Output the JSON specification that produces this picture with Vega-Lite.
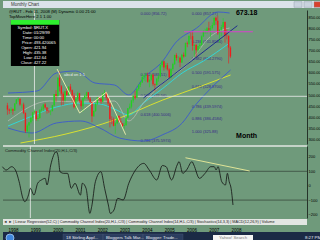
{
"$schema":"https://vega.github.io/schema/vega-lite/v6.json",
"background":"#6f9a7b",
"padding":0,
"spacing":0,
"config":{"view":{"stroke":null},"font":"Liberation Sans","concat":{"spacing":0},
"axis":{"labelFontSize":4,"labelOverlap":false,"labelColor":"#000000","ticks":false,"grid":false,"title":null,"labelPadding":1,"domainColor":"#26332a","domainWidth":1,"labelFont":"Liberation Sans"}},
"datasets":{
"tb":[{"k":"s0","t":"Monthly Chart","kind":"title"},{"k":"s29","kind":"btn"},{"k":"s30","kind":"btn"},{"k":"s31","kind":"close"}],
"task":[{"k":"t0","t":"","kind":"orb"},{"k":"t3","t":"18 Stirling Appl...","kind":"btn"},{"k":"t5","t":"Bloggers Talk Mar...","kind":"btn"},{"k":"t7","t":"Blogger: Trade...","kind":"btn"},{"k":"t11","t":"Yahoo! Search","kind":"search"},{"k":"t15","t":"8:27 PM","kind":"time"}],
"hl":[{"p":494.6}],
"vl":[{"d":"1999-01-01"}],
"cciL":[{"v":100},{"v":-100},{"v":275.7}],
"k":[
{"d":"1997-10-01","o":453.8,"h":465.2,"l":411.6,"c":434.9},
{"d":"1997-11-01","o":434.9,"h":440,"l":415,"c":429.9},
{"d":"1997-12-01","o":429.9,"h":445,"l":420,"c":437.0},
{"d":"1998-01-01","o":437.0,"h":440,"l":412,"c":430.1},
{"d":"1998-02-01","o":430.1,"h":463,"l":429,"c":461.8},
{"d":"1998-03-01","o":461.8,"h":482,"l":459,"c":480.7},
{"d":"1998-04-01","o":480.7,"h":491.4,"l":470,"c":483.1},
{"d":"1998-05-01","o":483.1,"h":485,"l":452,"c":457.4},
{"d":"1998-06-01","o":457.4,"h":462,"l":440,"c":457.6},
{"d":"1998-07-01","o":457.6,"h":466,"l":415,"c":419.8},
{"d":"1998-08-01","o":419.8,"h":423,"l":330,"c":337.9},
{"d":"1998-09-01","o":337.9,"h":372,"l":330,"c":363.6},
{"d":"1998-10-01","o":363.6,"h":380,"l":310.3,"c":378.2},
{"d":"1998-11-01","o":378.2,"h":405,"l":372,"c":397.8},
{"d":"1998-12-01","o":397.8,"h":425,"l":385,"c":422.0},
{"d":"1999-01-01","o":421.9,"h":435.4,"l":412.6,"c":427.2},
{"d":"1999-02-01","o":427.2,"h":428,"l":385,"c":392.3},
{"d":"1999-03-01","o":392.3,"h":405,"l":383,"c":397.6},
{"d":"1999-04-01","o":397.6,"h":437,"l":393,"c":432.8},
{"d":"1999-05-01","o":432.8,"h":449,"l":426,"c":438.7},
{"d":"1999-06-01","o":438.7,"h":459,"l":428,"c":457.7},
{"d":"1999-07-01","o":457.7,"h":465,"l":440,"c":444.8},
{"d":"1999-08-01","o":444.8,"h":446,"l":417,"c":428.8},
{"d":"1999-09-01","o":428.8,"h":440,"l":420,"c":427.3},
{"d":"1999-10-01","o":427.3,"h":432,"l":410,"c":428.6},
{"d":"1999-11-01","o":428.6,"h":456,"l":426,"c":454.1},
{"d":"1999-12-01","o":454.1,"h":505,"l":450,"c":504.8},
{"d":"2000-01-01","o":504.8,"h":522,"l":470,"c":496.2},
{"d":"2000-02-01","o":496.2,"h":580,"l":490,"c":577.7},
{"d":"2000-03-01","o":577.7,"h":606.4,"l":516,"c":539.1},
{"d":"2000-04-01","o":539.1,"h":545,"l":453,"c":506.3},
{"d":"2000-05-01","o":506.3,"h":515,"l":455,"c":476.2},
{"d":"2000-06-01","o":476.2,"h":520,"l":470,"c":517.2},
{"d":"2000-07-01","o":517.2,"h":535,"l":495,"c":500.6},
{"d":"2000-08-01","o":500.6,"h":540,"l":497,"c":538.2},
{"d":"2000-09-01","o":538.2,"h":550,"l":515,"c":521.4},
{"d":"2000-10-01","o":521.4,"h":525,"l":470,"c":497.7},
{"d":"2000-11-01","o":497.7,"h":510,"l":440,"c":445.9},
{"d":"2000-12-01","o":445.9,"h":490,"l":438,"c":483.5},
{"d":"2001-01-01","o":483.5,"h":515,"l":470,"c":508.3},
{"d":"2001-02-01","o":508.3,"h":510,"l":465,"c":474.4},
{"d":"2001-03-01","o":474.4,"h":480,"l":436,"c":450.5},
{"d":"2001-04-01","o":450.5,"h":490,"l":425,"c":485.3},
{"d":"2001-05-01","o":485.3,"h":502,"l":480,"c":497.3},
{"d":"2001-06-01","o":497.3,"h":515,"l":484,"c":512.6},
{"d":"2001-07-01","o":512.6,"h":514,"l":478,"c":484.8},
{"d":"2001-08-01","o":484.8,"h":492,"l":464,"c":468.6},
{"d":"2001-09-01","o":468.6,"h":470,"l":378.9,"c":404.9},
{"d":"2001-10-01","o":404.9,"h":432,"l":402,"c":428.2},
{"d":"2001-11-01","o":428.2,"h":463,"l":425,"c":461.6},
{"d":"2001-12-01","o":461.6,"h":492,"l":455,"c":488.5},
{"d":"2002-01-01","o":488.5,"h":491,"l":470,"c":483.1},
{"d":"2002-02-01","o":483.1,"h":487,"l":460,"c":470.1},
{"d":"2002-03-01","o":470.1,"h":510,"l":468,"c":506.5},
{"d":"2002-04-01","o":506.5,"h":522.9,"l":500,"c":511.6},
{"d":"2002-05-01","o":511.6,"h":513,"l":476,"c":488.5},
{"d":"2002-06-01","o":488.5,"h":490,"l":450,"c":462.6},
{"d":"2002-07-01","o":462.6,"h":465,"l":355,"c":392.4},
{"d":"2002-08-01","o":392.4,"h":405,"l":370,"c":391.4},
{"d":"2002-09-01","o":391.4,"h":400,"l":360,"c":362.3},
{"d":"2002-10-01","o":362.3,"h":380,"l":327.0,"c":373.9},
{"d":"2002-11-01","o":373.9,"h":412,"l":370,"c":406.3},
{"d":"2002-12-01","o":406.3,"h":410,"l":380,"c":383.1},
{"d":"2003-01-01","o":383.1,"h":400,"l":368,"c":372.2},
{"d":"2003-02-01","o":372.2,"h":375,"l":355,"c":361.0},
{"d":"2003-03-01","o":361.0,"h":376,"l":345,"c":364.5},
{"d":"2003-04-01","o":364.5,"h":400,"l":362,"c":398.7},
{"d":"2003-05-01","o":398.7,"h":442,"l":396,"c":441.0},
{"d":"2003-06-01","o":441.0,"h":462,"l":436,"c":448.4},
{"d":"2003-07-01","o":448.4,"h":479,"l":440,"c":476.0},
{"d":"2003-08-01","o":476.0,"h":498,"l":466,"c":497.4},
{"d":"2003-09-01","o":497.4,"h":520,"l":480,"c":487.7},
{"d":"2003-10-01","o":487.7,"h":530,"l":487,"c":528.2},
{"d":"2003-11-01","o":528.2,"h":548,"l":520,"c":546.5},
{"d":"2003-12-01","o":546.5,"h":560,"l":536,"c":556.9},
{"d":"2004-01-01","o":556.9,"h":595,"l":555,"c":580.8},
{"d":"2004-02-01","o":580.8,"h":590,"l":565,"c":585.6},
{"d":"2004-03-01","o":585.6,"h":600,"l":560,"c":590.3},
{"d":"2004-04-01","o":590.3,"h":601,"l":555,"c":559.8},
{"d":"2004-05-01","o":559.8,"h":570,"l":535,"c":568.3},
{"d":"2004-06-01","o":568.3,"h":592,"l":565,"c":591.5},
{"d":"2004-07-01","o":591.5,"h":595,"l":540,"c":549.0},
{"d":"2004-08-01","o":549.0,"h":552,"l":517,"c":545.7},
{"d":"2004-09-01","o":545.7,"h":578,"l":543,"c":572.9},
{"d":"2004-10-01","o":572.9,"h":590,"l":560,"c":583.8},
{"d":"2004-11-01","o":583.8,"h":637,"l":580,"c":633.8},
{"d":"2004-12-01","o":633.8,"h":655,"l":625,"c":651.6},
{"d":"2005-01-01","o":651.6,"h":654,"l":610,"c":624.0},
{"d":"2005-02-01","o":624.0,"h":645,"l":615,"c":634.1},
{"d":"2005-03-01","o":634.1,"h":644,"l":610,"c":615.1},
{"d":"2005-04-01","o":615.1,"h":620,"l":575,"c":579.4},
{"d":"2005-05-01","o":579.4,"h":620,"l":575,"c":616.7},
{"d":"2005-06-01","o":616.7,"h":645,"l":610,"c":639.7},
{"d":"2005-07-01","o":639.7,"h":682,"l":635,"c":679.8},
{"d":"2005-08-01","o":679.8,"h":688,"l":655,"c":666.5},
{"d":"2005-09-01","o":666.5,"h":675,"l":645,"c":667.8},
{"d":"2005-10-01","o":667.8,"h":672,"l":625,"c":646.6},
{"d":"2005-11-01","o":646.6,"h":685,"l":644,"c":680.6},
{"d":"2005-12-01","o":680.6,"h":691,"l":668,"c":673.2},
{"d":"2006-01-01","o":673.2,"h":736,"l":672,"c":733.2},
{"d":"2006-02-01","o":733.2,"h":740,"l":715,"c":730.6},
{"d":"2006-03-01","o":730.6,"h":768,"l":725,"c":765.1},
{"d":"2006-04-01","o":765.1,"h":781.8,"l":750,"c":764.5},
{"d":"2006-05-01","o":764.5,"h":785,"l":700,"c":721.0},
{"d":"2006-06-01","o":721.0,"h":728,"l":671,"c":724.7},
{"d":"2006-07-01","o":724.7,"h":730,"l":670,"c":700.6},
{"d":"2006-08-01","o":700.6,"h":722,"l":690,"c":720.5},
{"d":"2006-09-01","o":720.5,"h":735,"l":705,"c":725.6},
{"d":"2006-10-01","o":725.6,"h":768,"l":722,"c":763.7},
{"d":"2006-11-01","o":763.7,"h":790,"l":760,"c":786.1},
{"d":"2006-12-01","o":786.1,"h":797,"l":775,"c":787.7},
{"d":"2007-01-01","o":787.7,"h":805,"l":775,"c":800.3},
{"d":"2007-02-01","o":800.3,"h":829,"l":785,"c":793.3},
{"d":"2007-03-01","o":793.3,"h":810,"l":760,"c":800.7},
{"d":"2007-04-01","o":800.7,"h":825,"l":795,"c":814.6},
{"d":"2007-05-01","o":814.6,"h":848,"l":810,"c":847.2},
{"d":"2007-06-01","o":847.2,"h":852,"l":815,"c":833.7},
{"d":"2007-07-01","o":833.7,"h":856.5,"l":770,"c":777.0},
{"d":"2007-08-01","o":777.0,"h":795,"l":735,"c":792.9},
{"d":"2007-09-01","o":792.9,"h":815,"l":765,"c":805.5},
{"d":"2007-10-01","o":805.5,"h":845,"l":800,"c":828.0},
{"d":"2007-11-01","o":828.0,"h":830,"l":735,"c":767.8},
{"d":"2007-12-01","o":767.8,"h":795,"l":750,"c":766.0},
{"d":"2008-01-01","o":766.0,"h":767,"l":641.9,"c":713.3},
{"d":"2008-02-01","o":713.3,"h":720,"l":666,"c":673.18}
],
"ln":[
{"s":"yel","d":"1998-05-10","p":285.2},{"s":"yel","d":"2000-06-19","p":325.6},{"s":"yel","d":"2002-09-16","p":388.3},{"s":"yel","d":"2004-12-13","p":478},{"s":"yel","d":"2006-10-01","p":540.8},{"s":"yel","d":"2008-02-03","p":590.1},
{"s":"cya","d":"1997-10-10","p":361.4},{"s":"cya","d":"1998-09-03","p":397.3},{"s":"cya","d":"2000-01-07","p":446.6},{"s":"cya","d":"2001-02-21","p":464.6},{"s":"cya","d":"2002-01-13","p":460.1},{"s":"cya","d":"2002-09-16","p":437.7},{"s":"cya","d":"2003-05-19","p":410.8},{"s":"cya","d":"2004-01-21","p":464.6},{"s":"cya","d":"2004-12-13","p":530},{"s":"cya","d":"2005-11-07","p":599.1},{"s":"cya","d":"2006-11-01","p":652.9},{"s":"cya","d":"2008-01-18","p":733.6},
{"s":"gry","d":"1997-10-10","p":383.9},{"s":"gry","d":"1999-09-14","p":473.5},{"s":"gry","d":"2001-02-21","p":469},{"s":"gry","d":"2002-09-16","p":473.5},{"s":"gry","d":"2003-05-19","p":383.9},{"s":"gry","d":"2004-01-21","p":464.6},{"s":"gry","d":"2004-12-13","p":554.2},{"s":"gry","d":"2006-03-01","p":643.9},{"s":"gry","d":"2007-03-10","p":765},{"s":"gry","d":"2008-01-18","p":800.9},
{"s":"bup","d":"1997-10-10","p":509.4},{"s":"bup","d":"1999-02-15","p":518.4},{"s":"bup","d":"2000-01-07","p":599},{"s":"bup","d":"2000-12-01","p":608},{"s":"bup","d":"2001-10-22","p":554.2},{"s":"bup","d":"2002-09-16","p":545.3},{"s":"bup","d":"2003-05-19","p":500.4},{"s":"bup","d":"2004-01-21","p":576.7},{"s":"bup","d":"2004-12-13","p":652.9},{"s":"bup","d":"2005-07-13","p":733.6},{"s":"bup","d":"2006-07-10","p":800.9},{"s":"bup","d":"2007-07-04","p":872.6},{"s":"bup","d":"2008-01-18","p":868.1},
{"s":"blo","d":"1997-10-10","p":352.4},{"s":"blo","d":"1998-11-24","p":330},{"s":"blo","d":"2000-01-07","p":374.9},{"s":"blo","d":"2001-02-21","p":383.9},{"s":"blo","d":"2002-01-13","p":352.4},{"s":"blo","d":"2002-12-07","p":307.6},{"s":"blo","d":"2004-01-21","p":294.2},{"s":"blo","d":"2004-12-13","p":322.4},{"s":"blo","d":"2005-11-07","p":374.9},{"s":"blo","d":"2006-06-06","p":451.1},{"s":"blo","d":"2007-01-22","p":518.4},{"s":"blo","d":"2008-02-03","p":612.5}
],
"ov":[
{"s":"nav","d":"2004-01-21","p":487},{"s":"nav","d":"2008-05-28","p":811.2},
{"s":"mag","d":"2005-12-10","p":784},{"s":"mag","d":"2009-02-15","p":784},
{"s":"zz","d":"2000-01-19","p":617},{"s":"zz","d":"2001-02-04","p":419.7},{"s":"zz","d":"2002-05-01","p":512.5},{"s":"zz","d":"2003-03-25","p":322.4}
],
"fib":[
{"d":"2006-04-18","p":857.27,"t":"0.000 (857.27)"},
{"d":"2006-04-18","p":731.86,"t":"0.236 (731.8580)"},
{"d":"2006-04-18","p":654.28,"t":"0.382 (654.2790)"},
{"d":"2006-04-18","p":591.575,"t":"0.500 (591.575)"},
{"d":"2006-04-18","p":528.87,"t":"0.618 (528.8700)"},
{"d":"2006-04-18","p":439.6,"t":"0.786 (439.5974)"},
{"d":"2006-04-18","p":386.46,"t":"0.886 (386.4584)"},
{"d":"2006-04-18","p":325.88,"t":"1.000 (325.88)"},
{"d":"2003-12-01","p":856.72,"t":"0.000 (856.72)"},
{"d":"2003-12-01","p":583.51,"t":"0.382 (583.51)"},
{"d":"2003-12-01","p":488,"t":"0.500 (422.56)"},
{"d":"2003-12-01","p":405,"t":"0.618 (400.5006)"},
{"d":"2003-12-01","p":287,"t":"0.786 (375.5974)"}
],
"big":[{"d":"2008-11-01","p":868,"t":"673.18"},{"d":"2008-11-01","p":316.6,"t":"Month"}],
"hdr":[{"d":"1997-10-26","p":870.4,"t":"@RUT - Feb 11, 2008 (M)  Dynamic 0.00  21:00"},{"d":"1997-10-26","p":850.2,"t":"TopMoveHere 2.1 1.00"}],
"note":[{"d":"2000-05-15","p":591,"t":"abcd on 1:1"}],
"box":[{"d1":"1997-11-28","d2":"2000-02-25","p1":630.5,"p2":836.8,"kind":"black"},{"d1":"1997-11-28","d2":"2000-02-25","p1":815,"p2":836.8,"kind":"green"}],
"info":[
{"p":800.9,"a":"Symbol:","b":"$RUT.X"},{"p":778.5,"a":"Date:","b":"01/29/99"},{"p":756,"a":"Time:","b":"00:00"},{"p":733.6,"a":"Price:","b":"493.420065"},{"p":711.2,"a":"Open:","b":"421.94"},{"p":688.8,"a":"High:","b":"435.38"},{"p":666.3,"a":"Low:","b":"412.64"},{"p":643.9,"a":"Close:","b":"427.22"}
],
"cci":[
{"d":"1997-10-01","v":132},{"d":"1997-12-01","v":109},{"d":"1998-03-01","v":132},{"d":"1998-05-01","v":109},{"d":"1998-07-01","v":28},{"d":"1998-09-01","v":-88},{"d":"1998-10-01","v":-111},{"d":"1998-12-01","v":-65},{"d":"1999-01-01","v":-18},{"d":"1999-03-01","v":-65},{"d":"1999-05-01","v":17},{"d":"1999-07-01","v":40},{"d":"1999-09-01","v":51},{"d":"1999-10-01","v":5},{"d":"1999-12-01","v":144},{"d":"2000-03-01","v":236},{"d":"2000-04-01","v":201},{"d":"2000-05-01","v":97},{"d":"2000-07-01","v":86},{"d":"2000-09-01","v":86},{"d":"2000-11-01","v":-18},{"d":"2001-01-01","v":17},{"d":"2001-04-01","v":-65},{"d":"2001-05-01","v":17},{"d":"2001-07-01","v":-18},{"d":"2001-09-01","v":-192},{"d":"2001-10-01","v":-146},{"d":"2001-12-01","v":28},{"d":"2002-03-01","v":97},{"d":"2002-05-01","v":-18},{"d":"2002-07-01","v":-134},{"d":"2002-08-01","v":-192},{"d":"2002-10-01","v":-169},{"d":"2002-12-01","v":-88},{"d":"2003-03-01","v":-99},{"d":"2003-06-01","v":17},{"d":"2003-09-01","v":97},{"d":"2004-02-01","v":155},{"d":"2004-05-01","v":109},{"d":"2004-09-01","v":40},{"d":"2004-12-01","v":140},{"d":"2005-02-01","v":132},{"d":"2005-05-01","v":40},{"d":"2005-08-01","v":144},{"d":"2005-09-01","v":167},{"d":"2005-11-01","v":86},{"d":"2006-01-01","v":109},{"d":"2006-04-01","v":167},{"d":"2006-05-01","v":144},{"d":"2006-08-01","v":51},{"d":"2006-11-01","v":86},{"d":"2007-02-01","v":132},{"d":"2007-04-01","v":132},{"d":"2007-05-01","v":109},{"d":"2007-06-01","v":132},{"d":"2007-08-01","v":28},{"d":"2007-10-01","v":5},{"d":"2007-11-01","v":86},{"d":"2007-12-01","v":28},{"d":"2008-01-01","v":-18},{"d":"2008-02-01","v":-134}
],
"ccit":[{"d":"2005-12-15","v":194},{"d":"2008-11-01","v":102}],
"cciH":[{"d":"1997-11-12","v":241,"t":"Commodity Channel Index(20,H,L,C/3)"}],
"tabs":[{"d":"1997-10-20","t":"◄ ► | Linear Regression(52,C) | Commodity Channel Index(20,H,L,C/3) | Commodity Channel Index(14,H,L,C/3) | Stochastics(14,3,3) | MACD(12,26,9) | Volume"}]
},
"vconcat":[
{
"width":320,"height":7,
"view":{"fill":"#dbe3ea","stroke":null},
"data":{"name":"tb"},
"layer":[
{"transform":[{"filter":"datum.kind=='title'"}],
"mark":{"type":"text","align":"left","baseline":"middle","fontSize":4.5,"color":"#333333"},
"encoding":{"x":{"field":"k","type":"nominal","bandPosition":0.8,"scale":{"type":"band","paddingInner":0,"paddingOuter":0,"domain":["s0","s1","s2","s3","s4","s5","s6","s7","s8","s9","s10","s11","s12","s13","s14","s15","s16","s17","s18","s19","s20","s21","s22","s23","s24","s25","s26","s27","s28","s29","s30","s31"]},"axis":null},"text":{"field":"t"}}},
{"transform":[{"filter":"datum.kind!='title'"}],
"mark":{"type":"point","shape":"M -1 -0.7 L 1 -0.7 L 1 0.7 L -1 0.7 Z","filled":true,"size":64,"stroke":"#8a96a4","strokeWidth":0.4},
"encoding":{"x":{"field":"k","type":"nominal","scale":{"type":"band","paddingInner":0,"paddingOuter":0,"domain":["s0","s1","s2","s3","s4","s5","s6","s7","s8","s9","s10","s11","s12","s13","s14","s15","s16","s17","s18","s19","s20","s21","s22","s23","s24","s25","s26","s27","s28","s29","s30","s31"]},"axis":null},
"color":{"condition":{"test":"datum.kind=='close'","value":"#d8402c"},"value":"#c9d3de"},"opacity":{"value":1}}}
]
},
{
"width":304,"height":134,
"view":{"fill":"#6f9a7b","stroke":null},
"layer":[
{"data":{"name":"fib"},"mark":{"type":"text","align":"left","baseline":"alphabetic","fontSize":4,"color":"#3a2a8a","dy":-0.5},
"encoding":{"x":{"field":"d","type":"temporal","scale":{"type":"utc","domain":[{"year":1997,"month":10,"date":10,"utc":true},{"year":2011,"month":5,"date":28,"utc":true}]},"axis":null},
"y":{"field":"p","type":"quantitative","scale":{"domain":[280.7,881.6],"nice":false,"zero":false},"axis":{"orient":"right","values":[300,350,400,450,500,550,600,650,700,750,800,850],"format":".2f","labelFontSize":4,"labelOverlap":false,"labelPadding":1,"ticks":false,"grid":false,"title":null}},
"text":{"field":"t"}}},
{"data":{"name":"ln"},"mark":{"type":"line","strokeWidth":0.8,"interpolate":"monotone","clip":true},
"encoding":{"x":{"field":"d","type":"temporal"},
"y":{"field":"p","type":"quantitative","axis":{"orient":"right","values":[300,350,400,450,500,550,600,650,700,750,800,850],"format":".2f","labelFontSize":4,"labelOverlap":false,"labelPadding":1,"ticks":false,"grid":false,"title":null}},
"color":{"field":"s","type":"nominal","legend":null,"scale":{"domain":["yel","cya","gry","bup","blo","nav","mag","zz"],"range":["#f2f21e","#22e6ee","#b4bcb4","#3552d8","#3552d8","#14208e","#e436d6","#f2f0b0"]}}}},
{"data":{"name":"hl"},"mark":{"type":"rule","color":"#eeeeee","strokeWidth":0.8},
"encoding":{"y":{"field":"p","type":"quantitative","axis":{"orient":"right","values":[300,350,400,450,500,550,600,650,700,750,800,850],"format":".2f","labelFontSize":4,"labelOverlap":false,"labelPadding":1,"ticks":false,"grid":false,"title":null}}}},
{"data":{"name":"vl"},"mark":{"type":"rule","color":"#eeeeee","strokeWidth":0.8},
"encoding":{"x":{"field":"d","type":"temporal"}}},
{"data":{"name":"k"},"mark":{"type":"rule","strokeWidth":0.6},
"encoding":{"x":{"field":"d","type":"temporal"},
"y":{"field":"l","type":"quantitative","axis":{"orient":"right","values":[300,350,400,450,500,550,600,650,700,750,800,850],"format":".2f","labelFontSize":4,"labelOverlap":false,"labelPadding":1,"ticks":false,"grid":false,"title":null}},"y2":{"field":"h"},
"color":{"condition":{"test":"datum.c >= datum.o","value":"#22d022"},"value":"#f01c1c"}}},
{"data":{"name":"k"},"mark":{"type":"bar","size":1.4},
"encoding":{"x":{"field":"d","type":"temporal"},
"y":{"field":"o","type":"quantitative","axis":{"orient":"right","values":[300,350,400,450,500,550,600,650,700,750,800,850],"format":".2f","labelFontSize":4,"labelOverlap":false,"labelPadding":1,"ticks":false,"grid":false,"title":null}},"y2":{"field":"c"},
"color":{"condition":{"test":"datum.c >= datum.o","value":"#22d022"},"value":"#f01c1c"}}},
{"data":{"name":"ov"},"mark":{"type":"line","strokeWidth":0.9,"clip":true},
"encoding":{"x":{"field":"d","type":"temporal"},
"y":{"field":"p","type":"quantitative","axis":{"orient":"right","values":[300,350,400,450,500,550,600,650,700,750,800,850],"format":".2f","labelFontSize":4,"labelOverlap":false,"labelPadding":1,"ticks":false,"grid":false,"title":null}},"detail":{"field":"s"},
"color":{"field":"s","type":"nominal","legend":null,"scale":{"domain":["yel","cya","gry","bup","blo","nav","mag","zz"],"range":["#f2f21e","#22e6ee","#b4bcb4","#3552d8","#3552d8","#14208e","#e436d6","#f2f0b0"]}}}},
{"data":{"name":"note"},"mark":{"type":"text","align":"left","baseline":"middle","fontSize":4,"color":"#e6eef0"},
"encoding":{"x":{"field":"d","type":"temporal"},
"y":{"field":"p","type":"quantitative","axis":{"orient":"right","values":[300,350,400,450,500,550,600,650,700,750,800,850],"format":".2f","labelFontSize":4,"labelOverlap":false,"labelPadding":1,"ticks":false,"grid":false,"title":null}},"text":{"field":"t"}}},
{"data":{"name":"big"},"mark":{"type":"text","align":"center","baseline":"middle","fontSize":7,"fontWeight":"bold","color":"#000000"},
"encoding":{"x":{"field":"d","type":"temporal"},
"y":{"field":"p","type":"quantitative","axis":{"orient":"right","values":[300,350,400,450,500,550,600,650,700,750,800,850],"format":".2f","labelFontSize":4,"labelOverlap":false,"labelPadding":1,"ticks":false,"grid":false,"title":null}},"text":{"field":"t"}}},
{"data":{"name":"hdr"},"mark":{"type":"text","align":"left","baseline":"middle","fontSize":4.2,"color":"#000000"},
"encoding":{"x":{"field":"d","type":"temporal"},
"y":{"field":"p","type":"quantitative","axis":{"orient":"right","values":[300,350,400,450,500,550,600,650,700,750,800,850],"format":".2f","labelFontSize":4,"labelOverlap":false,"labelPadding":1,"ticks":false,"grid":false,"title":null}},"text":{"field":"t"}}},
{"data":{"name":"box"},"mark":{"type":"rect"},
"encoding":{"x":{"field":"d1","type":"temporal"},"x2":{"field":"d2"},
"y":{"field":"p1","type":"quantitative","axis":{"orient":"right","values":[300,350,400,450,500,550,600,650,700,750,800,850],"format":".2f","labelFontSize":4,"labelOverlap":false,"labelPadding":1,"ticks":false,"grid":false,"title":null}},"y2":{"field":"p2"},
"color":{"condition":{"test":"datum.kind=='green'","value":"#2ef02e"},"value":"#000000"}}},
{"data":{"name":"info"},"mark":{"type":"text","align":"right","baseline":"middle","fontSize":4.2,"color":"#ffffff"},
"encoding":{"x":{"datum":{"year":1998,"month":12,"date":2,"utc":true},"type":"temporal"},
"y":{"field":"p","type":"quantitative","axis":{"orient":"right","values":[300,350,400,450,500,550,600,650,700,750,800,850],"format":".2f","labelFontSize":4,"labelOverlap":false,"labelPadding":1,"ticks":false,"grid":false,"title":null}},"text":{"field":"a"}}},
{"data":{"name":"info"},"mark":{"type":"text","align":"left","baseline":"middle","fontSize":4.2,"color":"#ffffff"},
"encoding":{"x":{"datum":{"year":1998,"month":12,"date":18,"utc":true},"type":"temporal"},
"y":{"field":"p","type":"quantitative","axis":{"orient":"right","values":[300,350,400,450,500,550,600,650,700,750,800,850],"format":".2f","labelFontSize":4,"labelOverlap":false,"labelPadding":1,"ticks":false,"grid":false,"title":null}},"text":{"field":"b"}}}
]
},
{
"width":304,"height":72,
"view":{"fill":"#6f9a7b","stroke":null},
"layer":[
{"data":{"name":"cciL"},"mark":{"type":"rule"},
"encoding":{"y":{"field":"v","type":"quantitative","scale":{"domain":[-224.3,275.7],"nice":false,"zero":false},"axis":{"orient":"right","values":[-200,-100,0,100,200],"format":"d","labelFontSize":4,"labelOverlap":false,"labelPadding":1,"ticks":false,"grid":false,"title":null}},
"color":{"condition":{"test":"datum.v > 250","value":"#e2e6e2"},"value":"#3a4a3e"},"strokeWidth":{"condition":{"test":"datum.v > 250","value":1.6},"value":0.8}}},
{"data":{"name":"vl"},"mark":{"type":"rule","color":"#eeeeee","strokeWidth":0.8},
"encoding":{"x":{"field":"d","type":"temporal","scale":{"type":"utc","domain":[{"year":1997,"month":10,"date":10,"utc":true},{"year":2011,"month":5,"date":28,"utc":true}]},"axis":null}}},
{"data":{"name":"ccit"},"mark":{"type":"line","color":"#ecec9a","strokeWidth":0.9},
"encoding":{"x":{"field":"d","type":"temporal"},"y":{"field":"v","type":"quantitative","axis":{"orient":"right","values":[-200,-100,0,100,200],"format":"d","labelFontSize":4,"labelOverlap":false,"labelPadding":1,"ticks":false,"grid":false,"title":null}}}},
{"data":{"name":"cci"},"mark":{"type":"line","color":"#111111","strokeWidth":0.8,"interpolate":"monotone"},
"encoding":{"x":{"field":"d","type":"temporal"},"y":{"field":"v","type":"quantitative","axis":{"orient":"right","values":[-200,-100,0,100,200],"format":"d","labelFontSize":4,"labelOverlap":false,"labelPadding":1,"ticks":false,"grid":false,"title":null}}}},
{"data":{"name":"cciH"},"mark":{"type":"text","align":"left","baseline":"middle","fontSize":4.2,"color":"#1a1a1a"},
"encoding":{"x":{"field":"d","type":"temporal"},"y":{"field":"v","type":"quantitative","axis":{"orient":"right","values":[-200,-100,0,100,200],"format":"d","labelFontSize":4,"labelOverlap":false,"labelPadding":1,"ticks":false,"grid":false,"title":null}},"text":{"field":"t"}}}
]
},
{
"width":304,"height":6,
"view":{"fill":"#e2e6e2","stroke":null},
"data":{"name":"tabs"},
"mark":{"type":"text","align":"left","baseline":"middle","fontSize":3.8,"color":"#222222"},
"encoding":{"x":{"field":"d","type":"temporal","scale":{"type":"utc","domain":[{"year":1997,"month":10,"date":10,"utc":true},{"year":2011,"month":5,"date":28,"utc":true}]},
"axis":{"orient":"bottom","values":[{"year":1998,"month":1,"date":1,"utc":true},{"year":1999,"month":1,"date":1,"utc":true},{"year":2000,"month":1,"date":1,"utc":true},{"year":2001,"month":1,"date":1,"utc":true},{"year":2002,"month":1,"date":1,"utc":true},{"year":2003,"month":1,"date":1,"utc":true},{"year":2004,"month":1,"date":1,"utc":true},{"year":2005,"month":1,"date":1,"utc":true},{"year":2006,"month":1,"date":1,"utc":true},{"year":2007,"month":1,"date":1,"utc":true},{"year":2008,"month":1,"date":1,"utc":true}],"format":"%Y","labelAlign":"left","labelFontSize":4.5,"labelOverlap":false,"labelColor":"#000000","labelPadding":2.5,"ticks":false,"domain":false,"grid":false,"title":null}},
"text":{"field":"t"}}
},
{
"width":320,"height":12,
"view":{"fill":"#1b2a45","stroke":null},
"data":{"name":"task"},
"layer":[
{"transform":[{"filter":"datum.kind=='btn'"}],"mark":{"type":"point","shape":"M -1 -0.2 L 1 -0.2 L 1 0.2 L -1 0.2 Z","filled":true,"size":1600,"color":"#33466a","stroke":"#5a6d90","strokeWidth":0.4},
"encoding":{"x":{"field":"k","type":"nominal","scale":{"type":"band","paddingInner":0,"paddingOuter":0,"domain":["t0","t1","t2","t3","t4","t5","t6","t7","t8","t9","t10","t11","t12","t13","t14","t15"]},"axis":null,"bandPosition":1}}},
{"transform":[{"filter":"datum.kind=='search'"}],"mark":{"type":"point","shape":"M -1 -0.15 L 1 -0.15 L 1 0.15 L -1 0.15 Z","filled":true,"size":1600,"color":"#f4f4f4","opacity":1},
"encoding":{"x":{"field":"k","type":"nominal","axis":null}}},
{"transform":[{"filter":"datum.kind=='orb'"}],"mark":{"type":"point","shape":"circle","filled":true,"size":64,"color":"#3f86dc","stroke":"#a8cdf2","strokeWidth":0.8,"opacity":1},
"encoding":{"x":{"field":"k","type":"nominal","axis":null,"bandPosition":0.35}}},
{"transform":[{"filter":"datum.kind=='btn'"}],"mark":{"type":"text","align":"left","baseline":"middle","fontSize":4.3,"color":"#e8edf5"},
"encoding":{"x":{"field":"k","type":"nominal","axis":null,"bandPosition":0.15},"text":{"field":"t"}}},
{"transform":[{"filter":"datum.kind=='search'"}],"mark":{"type":"text","align":"center","baseline":"middle","fontSize":4.3,"color":"#777777"},
"encoding":{"x":{"field":"k","type":"nominal","axis":null},"text":{"field":"t"}}},
{"transform":[{"filter":"datum.kind=='time'"}],"mark":{"type":"text","align":"center","baseline":"middle","fontSize":4.3,"color":"#e8edf5"},
"encoding":{"x":{"field":"k","type":"nominal","axis":null},"text":{"field":"t"}}}
]
}
]
}
